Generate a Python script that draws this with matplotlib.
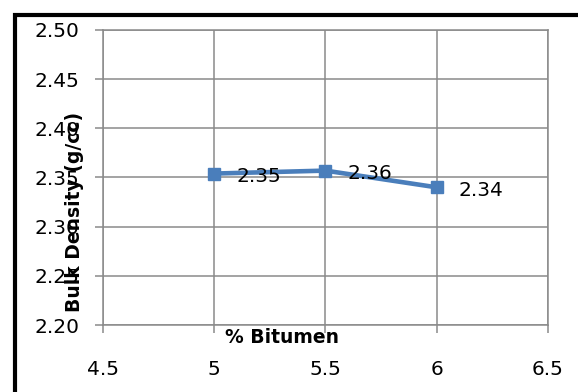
import matplotlib.pyplot as plt
from matplotlib.lines import Line2D

# bulk density against bitumen content
bitumen = [5, 5.5, 6]
density = [2.354, 2.357, 2.340]

x_ticks = [4.5, 5, 5.5, 6, 6.5]
y_ticks = [2.20, 2.25, 2.30, 2.35, 2.40, 2.45, 2.50]

blue = '#4a7ebb'
grid = '#8a8a8a'

fig = plt.figure(figsize=(5.78, 3.92), dpi=100)
ax = fig.add_axes([0.1782, 0.1709, 0.7698, 0.7526])

ax.plot(bitumen, density, color=blue, lw=3.3, marker='s', ms=9,
        solid_capstyle='round', zorder=3)
for x, y in zip(bitumen, density):
    ax.annotate('%.2f' % y, (x, y), xytext=(16, -2), textcoords='offset points',
                ha='left', va='center', fontsize=14.5, color='black', zorder=4)

ax.set_xlim(4.5, 6.5)
ax.set_ylim(2.20, 2.50)
ax.set_xticks(x_ticks)
ax.set_xticklabels(['%g' % t for t in x_ticks])
ax.set_yticks(y_ticks)
ax.set_yticklabels(['%.2f' % t for t in y_ticks])
ax.grid(True, color=grid, lw=1.1)
ax.set_axisbelow(True)
for s in ax.spines.values():
    s.set_color(grid)
    s.set_linewidth(1.1)
ax.tick_params(axis='both', colors=grid, labelcolor='black', labelsize=14.5,
               length=6, width=1.1)
ax.tick_params(axis='y', pad=11)
ax.tick_params(axis='x', pad=19)

ax.set_xlabel('% Bitumen', fontsize=13.5, fontweight='bold', ha='center', va='center')
ax.xaxis.set_label_coords(0.402, -0.041)
ax.set_ylabel('Bulk Density (g/cc)', fontsize=13.5, fontweight='bold',
              ha='center', va='center')
ax.yaxis.set_label_coords(-0.063, 0.383)

# frame around the chart area
fig.add_artist(Line2D([14.8 / 578, 14.8 / 578, 1.01], [-0.01, 1 - 14.8 / 392, 1 - 14.8 / 392],
                      transform=fig.transFigure, color='black', lw=3.0,
                      solid_joinstyle='miter'))

fig.savefig('out.png', dpi=100)
